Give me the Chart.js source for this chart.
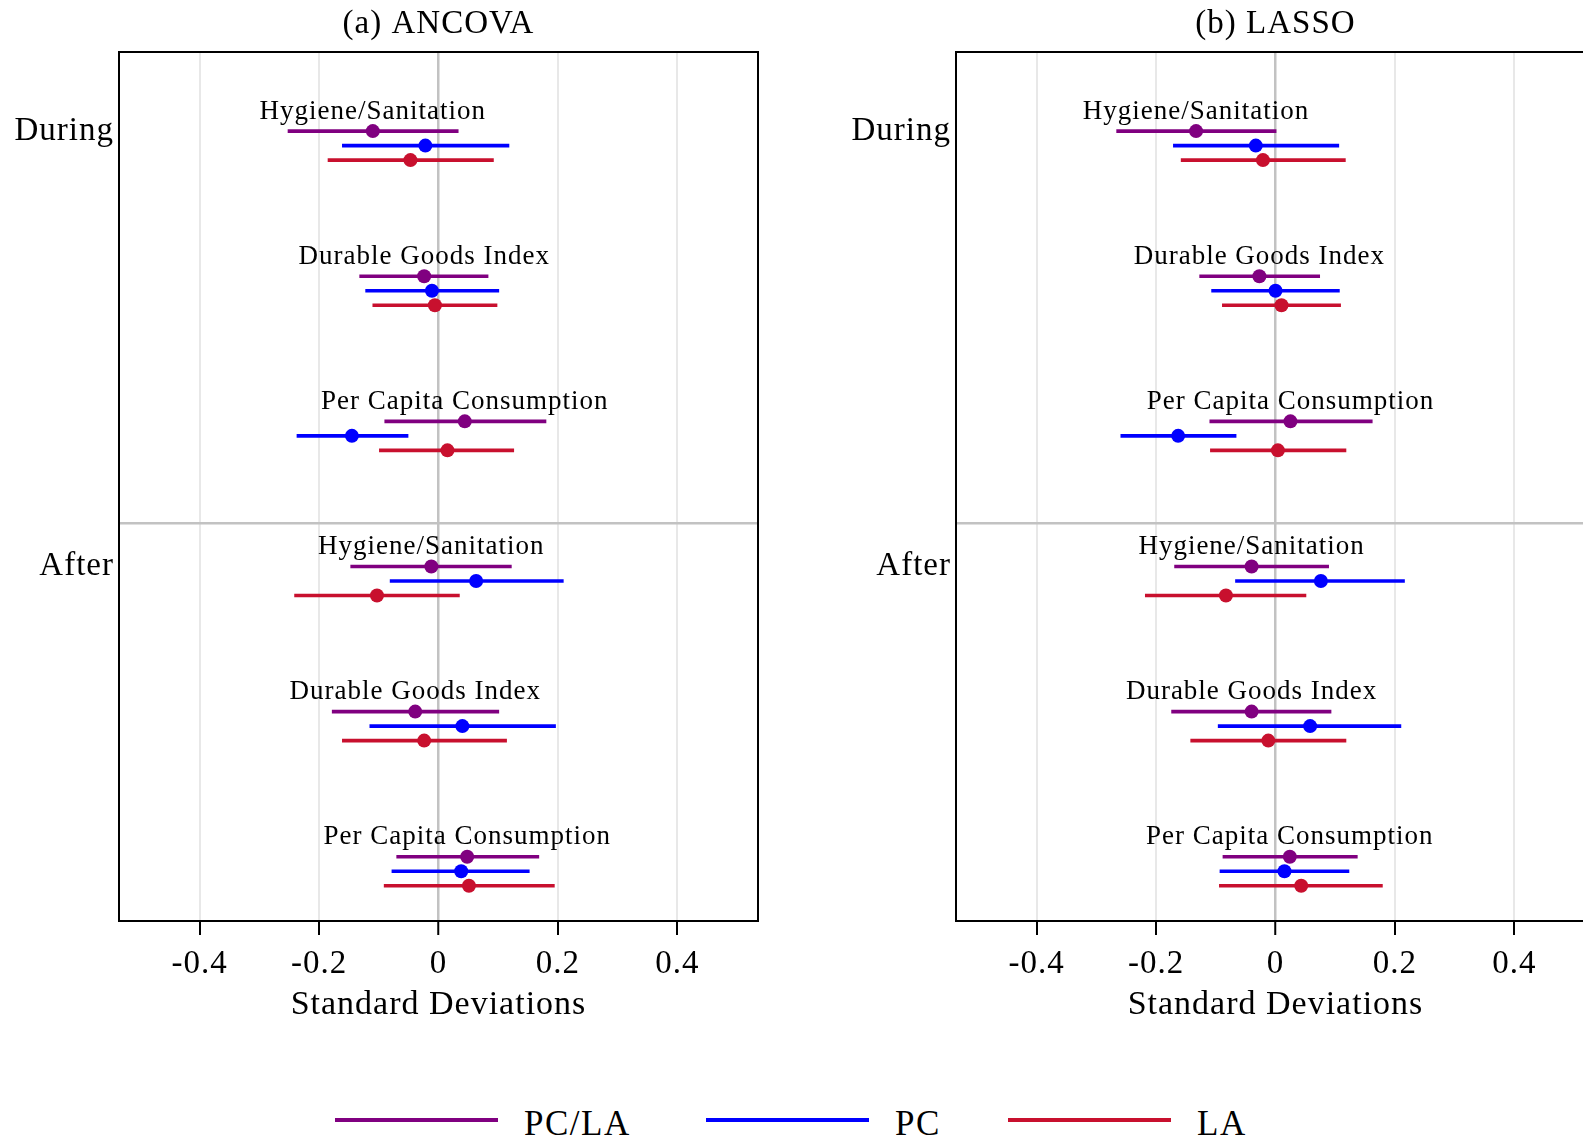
<!DOCTYPE html>
<html>
<head>
<meta charset="utf-8">
<title>Treatment effects: ANCOVA and LASSO</title>
<script src="https://cdn.jsdelivr.net/npm/chart.js@4.4.1/dist/chart.umd.min.js"></script>
<style>
  html, body { margin: 0; padding: 0; background: #fff; }
  body {
    width: 1583px; height: 1144px; overflow: hidden; position: relative;
    font-family: "Liberation Serif", serif; color: #000;
  }
  .panel { position: absolute; top: 0; }
  #panelA { left: 0; }
  #panelB { left: 837px; }
  .legend-item { position: absolute; top: 1098px; height: 44px; display: flex; align-items: center; }
  .legend-line { width: 163px; height: 4px; margin-right: 26px; }
  .legend-text { font-size: 35px; line-height: 44px; letter-spacing: 1.5px; position: relative; top: 4px; }
</style>
</head>
<body>
<canvas id="panelA" class="panel" width="788" height="1041"></canvas>
<canvas id="panelB" class="panel" width="788" height="1041"></canvas>
<div id="legend"></div>

<script>
// --- DATA ---
const periods = ['During', 'After'];
const outcomes = ['Hygiene/Sanitation', 'Durable Goods Index', 'Per Capita Consumption'];
const seriesNames = ['PC/LA', 'PC', 'LA'];
const seriesColors = ['#800080', '#0000ff', '#c8102e'];
const xTicks = [-0.4, -0.2, 0, 0.2, 0.4];

// row order: During (hygiene, durables, consumption), then After (same)
const ancovaPcLaEst = [-0.110, -0.024, 0.044, -0.012, -0.039, 0.048];
const ancovaPcLaLow = [-0.252, -0.132, -0.090, -0.147, -0.178, -0.070];
const ancovaPcLaHigh = [0.033, 0.083, 0.180, 0.122, 0.101, 0.168];
const ancovaPcEst = [-0.022, -0.011, -0.145, 0.063, 0.040, 0.038];
const ancovaPcLow = [-0.161, -0.122, -0.237, -0.081, -0.115, -0.078];
const ancovaPcHigh = [0.118, 0.101, -0.051, 0.209, 0.196, 0.152];
const ancovaLaEst = [-0.047, -0.006, 0.015, -0.103, -0.024, 0.051];
const ancovaLaLow = [-0.185, -0.110, -0.099, -0.241, -0.161, -0.091];
const ancovaLaHigh = [0.092, 0.098, 0.126, 0.035, 0.114, 0.194];

const lassoPcLaEst = [-0.133, -0.027, 0.025, -0.040, -0.040, 0.024];
const lassoPcLaLow = [-0.266, -0.127, -0.110, -0.169, -0.174, -0.088];
const lassoPcLaHigh = [0.001, 0.074, 0.162, 0.089, 0.093, 0.137];
const lassoPcEst = [-0.033, 0.000, -0.163, 0.076, 0.058, 0.015];
const lassoPcLow = [-0.171, -0.107, -0.259, -0.067, -0.096, -0.093];
const lassoPcHigh = [0.106, 0.107, -0.066, 0.216, 0.210, 0.123];
const lassoLaEst = [-0.021, 0.010, 0.004, -0.083, -0.012, 0.043];
const lassoLaLow = [-0.158, -0.089, -0.109, -0.218, -0.142, -0.094];
const lassoLaHigh = [0.117, 0.109, 0.118, 0.051, 0.118, 0.179];

// y layout: one unit per outcome block, series stacked 0.1 apart inside it
const rowOffsets = [-0.1, 0, 0.1];
const periodTickAt = [-0.1, 2.9];
const dividerAt = 2.6;
const yRange = [-0.645, 5.343];
const xRange = [-0.535, 0.535];

const FONT = '"Liberation Serif", serif';

// --- PLUGINS ---
// a touch of tracking so the serif text runs as wide as the TeX labels
const textSpacingPlugin = {
    id: 'textSpacing',
    beforeDraw(chart) {
        chart.ctx.letterSpacing = '1px';
    }
};

const framePlugin = {
    id: 'frame',
    afterDraw(chart) {
        const { ctx, chartArea: a } = chart;
        ctx.save();
        ctx.strokeStyle = '#000';
        ctx.lineWidth = 2;
        ctx.strokeRect(a.left, a.top, a.right - a.left, a.bottom - a.top);
        ctx.restore();
    }
};

// panel heading, centred over the plot box rather than the whole canvas
const panelTitlePlugin = {
    id: 'panelTitle',
    afterDraw(chart, args, opts) {
        const { ctx, chartArea: a } = chart;
        ctx.save();
        ctx.font = `33px ${FONT}`;
        ctx.fillStyle = '#000';
        ctx.textAlign = 'center';
        ctx.textBaseline = 'middle';
        ctx.fillText(opts.text, (a.left + a.right) / 2, 24);
        ctx.restore();
    }
};

// outcome name sits above the first (PC/LA) point of each block
const outcomeLabelPlugin = {
    id: 'outcomeLabels',
    afterDatasetsDraw(chart) {
        const meta = chart.getDatasetMeta(0);
        const { ctx } = chart;
        ctx.save();
        ctx.font = `27px ${FONT}`;
        ctx.fillStyle = '#000';
        ctx.textAlign = 'center';
        ctx.textBaseline = 'middle';
        meta.data.forEach((pt, i) => {
            ctx.fillText(outcomes[i % outcomes.length], pt.x, pt.y - 19.5);
        });
        ctx.restore();
    }
};

function rowPos(i, s) {
    return i + rowOffsets[s];
}

function buildPanel(canvasId, title, est, low, high) {
    const pointSets = seriesNames.map((name, s) => ({
        type: 'scatter',
        label: name,
        data: est[s].map((v, i) => ({ x: v, y: rowPos(i, s) })),
        backgroundColor: seriesColors[s],
        pointBackgroundColor: seriesColors[s],
        pointBorderWidth: 0,
        pointRadius: 7,
        pointHoverRadius: 7,
        order: 0
    }));
    const barSets = seriesNames.map((name, s) => ({
        type: 'bar',
        label: name + ' CI',
        indexAxis: 'y',
        grouped: false,
        barThickness: 3,
        borderWidth: 0,
        data: low[s].map((v, i) => ({ x: [v, high[s][i]], y: rowPos(i, s) })),
        backgroundColor: seriesColors[s],
        order: 1
    }));

    return new Chart(document.getElementById(canvasId), {
        type: 'scatter',
        data: { datasets: pointSets.concat(barSets) },
        plugins: [textSpacingPlugin, framePlugin, panelTitlePlugin, outcomeLabelPlugin],
        options: {
            responsive: false,
            animation: false,
            events: [],
            layout: { padding: { top: 52, right: 30, left: 0, bottom: 0 } },
            plugins: {
                legend: { display: false },
                tooltip: { enabled: false },
                title: { display: false },
                panelTitle: { text: title }
            },
            scales: {
                x: {
                    type: 'linear',
                    min: xRange[0],
                    max: xRange[1],
                    afterBuildTicks: scale => { scale.ticks = xTicks.map(v => ({ value: v })); },
                    afterFit: scale => { scale.height = 120; },
                    grid: {
                        offset: false,
                        color: c => (c.tick && c.tick.value === 0) ? '#c2c2c2' : '#e8e8e8',
                        lineWidth: c => (c.tick && c.tick.value === 0) ? 2.5 : 2,
                        tickLength: 14,
                        tickColor: '#000',
                        tickWidth: 2
                    },
                    border: { display: false },
                    ticks: {
                        autoSkip: false,
                        maxRotation: 0,
                        padding: 10,
                        color: '#000',
                        font: { family: FONT, size: 33 },
                        callback: v => v === 0 ? '0' : v.toFixed(1)
                    },
                    title: {
                        display: true,
                        text: 'Standard Deviations',
                        color: '#000',
                        font: { family: FONT, size: 34 },
                        padding: { top: 0, bottom: 16 }
                    }
                },
                y: {
                    type: 'linear',
                    reverse: true,
                    min: yRange[0],
                    max: yRange[1],
                    offset: false,
                    afterBuildTicks: scale => {
                        scale.ticks = [periodTickAt[0], dividerAt, periodTickAt[1]].map(v => ({ value: v }));
                    },
                    afterFit: scale => { scale.width = 119; },
                    grid: {
                        offset: false,
                        drawTicks: false,
                        color: c => (c.tick && c.tick.value === dividerAt) ? '#c2c2c2' : 'rgba(0,0,0,0)',
                        lineWidth: 2.5
                    },
                    border: { display: false },
                    ticks: {
                        autoSkip: false,
                        padding: 5,
                        color: '#000',
                        font: { family: FONT, size: 33 },
                        callback: v => {
                            const k = periodTickAt.indexOf(v);
                            return k >= 0 ? periods[k] : '';
                        }
                    }
                }
            }
        }
    });
}

buildPanel('panelA', '(a) ANCOVA',
    [ancovaPcLaEst, ancovaPcEst, ancovaLaEst],
    [ancovaPcLaLow, ancovaPcLow, ancovaLaLow],
    [ancovaPcLaHigh, ancovaPcHigh, ancovaLaHigh]);

buildPanel('panelB', '(b) LASSO',
    [lassoPcLaEst, lassoPcEst, lassoLaEst],
    [lassoPcLaLow, lassoPcLow, lassoLaLow],
    [lassoPcLaHigh, lassoPcHigh, lassoLaHigh]);

// --- LEGEND ---
const legendLeft = [335, 706, 1008];
const legend = document.getElementById('legend');
seriesNames.forEach((name, s) => {
    const item = document.createElement('div');
    item.className = 'legend-item';
    item.style.left = legendLeft[s] + 'px';
    item.innerHTML = `<div class="legend-line" style="background:${seriesColors[s]}"></div>` +
        `<span class="legend-text">${name}</span>`;
    legend.appendChild(item);
});
</script>
</body>
</html>
